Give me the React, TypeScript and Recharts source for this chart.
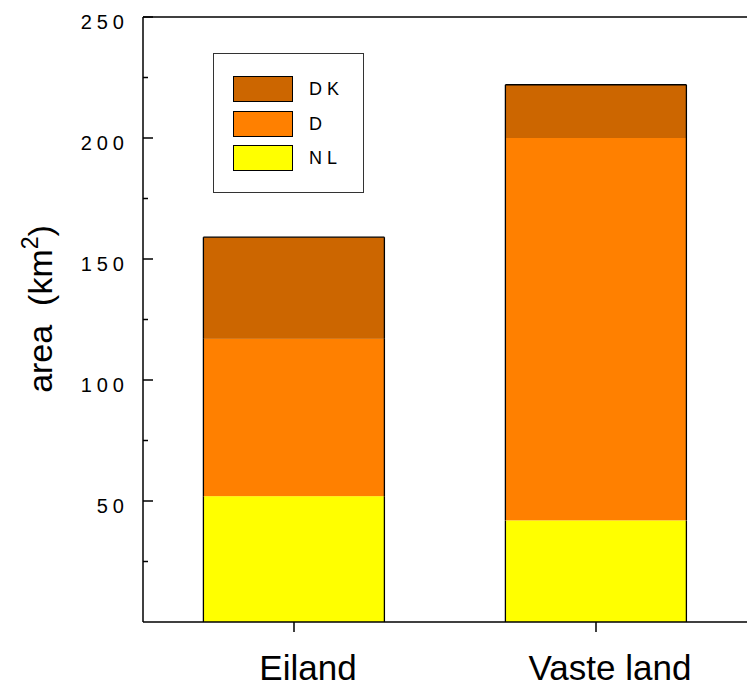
import React from 'react';
import { BarChart, Bar, XAxis, YAxis, Legend, ReferenceLine } from 'recharts';

const categories = ['Eiland', 'Vaste land'];
const nlValues = [52, 42];
const dValues = [65, 158];
const dkValues = [42, 22];
const yTicks = [25, 50, 75, 100, 125, 150, 175, 200, 225, 250];

const series = [
  { key: 'NL', color: '#FFFF00' },
  { key: 'D', color: '#FF8000' },
  { key: 'DK', color: '#CC6600' },
];

const data = categories.map((name, i) => ({
  name,
  NL: nlValues[i],
  D: dValues[i],
  DK: dkValues[i],
}));

const FONT = '"Liberation Sans", Arial, sans-serif';

// stacked segments share one outline: sides on every piece, top only on the last
const outlined = (withTop: boolean) => (props: any) => {
  const { x, y, width, height, fill } = props;
  return (
    <g>
      <rect x={x} y={y} width={width} height={height} fill={fill} />
      <line x1={x} y1={y} x2={x} y2={y + height} stroke="#000" strokeWidth={1.3} />
      <line x1={x + width} y1={y} x2={x + width} y2={y + height} stroke="#000" strokeWidth={1.3} />
      {withTop && <line x1={x} y1={y} x2={x + width} y2={y} stroke="#000" strokeWidth={1.3} />}
    </g>
  );
};

const YTick = (props: any) => {
  const { x, y, payload } = props;
  const major = payload.value % 50 === 0;
  return (
    <g>
      <line x1={x} y1={y} x2={x + (major ? 10 : 5)} y2={y} stroke="#000" strokeWidth={1.5} />
      {major && (
        <text x={x - 14} y={y + 11.5} textAnchor="end" fontSize={20} letterSpacing={5} fill="#000" fontFamily={FONT}>
          {payload.value}
        </text>
      )}
    </g>
  );
};

const XTick = (props: any) => {
  const { x, y, payload } = props;
  return (
    <g>
      <line x1={x} y1={y} x2={x} y2={y + 10} stroke="#000" strokeWidth={1.5} />
      <text x={x + 14} y={y + 58} textAnchor="middle" fontSize={35} fill="#000" fontFamily={FONT}>
        {payload.value}
      </text>
    </g>
  );
};

const YLabel = () => (
  <text
    x={52}
    y={309}
    transform="rotate(-90, 52, 309)"
    textAnchor="middle"
    fontSize={34}
    fill="#000"
    fontFamily={FONT}
  >
    <tspan>{'area\u00a0\u00a0(km'}</tspan>
    <tspan fontSize={23} dy={-14}>2</tspan>
    <tspan dy={14}>)</tspan>
  </text>
);

const LegendBox = () => (
  <div
    style={{
      width: 151,
      height: 140,
      border: '1px solid #333',
      boxSizing: 'border-box',
      position: 'relative',
      background: '#fff',
      fontFamily: FONT,
    }}
  >
    {[...series].reverse().map((s, i) => (
      <div key={s.key} style={{ position: 'absolute', left: 19, top: 22 + i * 34.5, height: 26, width: 130 }}>
        <div
          style={{
            position: 'absolute',
            left: 0,
            top: 0,
            width: 60,
            height: 26,
            background: s.color,
            border: '1px solid #000',
            boxSizing: 'border-box',
          }}
        />
        <span
          style={{
            position: 'absolute',
            left: 76,
            top: 0,
            lineHeight: '26px',
            fontSize: 18,
            letterSpacing: 5,
            color: '#000',
          }}
        >
          {s.key}
        </span>
      </div>
    ))}
  </div>
);

export default function App() {
  return (
    <div style={{ position: 'absolute', left: 0, top: 0, background: '#fff' }}>
      <BarChart
        width={750}
        height={692}
        data={data}
        margin={{ top: 17, right: 3, left: 0, bottom: 0 }}
        barCategoryGap="20%"
      >
        <XAxis
          dataKey="name"
          height={70}
          tickSize={0}
          tickMargin={0}
          tickLine={false}
          tick={<XTick />}
          axisLine={{ stroke: '#000', strokeWidth: 1.5 }}
        />
        <YAxis
          width={143}
          domain={[0, 250]}
          ticks={yTicks}
          interval={0}
          tickSize={0}
          tickMargin={0}
          tickLine={false}
          tick={<YTick />}
          axisLine={{ stroke: '#000', strokeWidth: 1.5 }}
          label={<YLabel />}
        />
        <YAxis
          yAxisId="right"
          orientation="right"
          width={0}
          domain={[0, 250]}
          tick={false}
          tickLine={false}
          axisLine={{ stroke: '#000', strokeWidth: 1.5 }}
        />
        <Legend
          layout="horizontal"
          verticalAlign="middle"
          align="center"
          wrapperStyle={{ left: 213, top: 53, width: 151, height: 140 }}
          content={<LegendBox />}
        />
        {series.map((s, i) => (
          <Bar
            key={s.key}
            dataKey={s.key}
            stackId="a"
            fill={s.color}
            isAnimationActive={false}
            shape={outlined(i === series.length - 1)}
          />
        ))}
        <ReferenceLine y={250} stroke="#000" strokeWidth={1.5} ifOverflow="visible" />
      </BarChart>
    </div>
  );
}
